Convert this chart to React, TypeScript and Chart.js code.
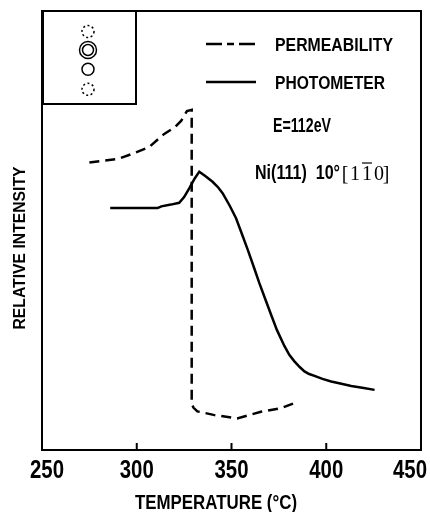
import React, { useEffect, useRef } from "react";
import { Chart, registerables } from "chart.js";

Chart.register(...registerables);

// ---- data ----
const xTicks = [250, 300, 350, 400, 450];

const permTemp = [275, 282, 290, 298.5, 306.5, 314.5, 320, 323.5, 326.5, 329, 329, 330, 332, 340.5, 353, 365.5, 376, 385];
const permVal = [65.5, 65.9, 66.3, 67.6, 69.0, 72.0, 73.5, 75.0, 77.2, 77.5, 10.5, 9.6, 8.8, 8.0, 7.2, 8.7, 9.5, 11.0];

const photTemp = [286, 300, 311, 313, 318, 322.4, 325, 327.7, 330.5, 333, 336.5, 340, 343, 345.3, 349, 352.4, 355.5, 358.6, 362, 364.7, 367.8, 370.9, 374, 377.9, 380.5, 383.2, 386, 388.5, 391, 393.8, 398, 402.6, 408, 413.2, 419, 425.5];
const photVal = [55.1, 55.1, 55.1, 55.5, 55.9, 56.3, 57.6, 59.6, 61.8, 63.4, 62.3, 61.1, 59.8, 58.5, 55.7, 52.8, 49.2, 45.6, 41.4, 38.0, 34.4, 30.8, 27.3, 23.7, 21.7, 20.2, 18.9, 17.9, 17.3, 16.9, 16.2, 15.6, 15.1, 14.6, 14.2, 13.7];

const seriesNames = ["PERMEABILITY", "PHOTOMETER"];
const energyLabel = "E=112eV";
const crystalLabel = "Ni(111)  10°";
const directionChars = ["[", "1", "1", "0", "]"];
const xTitle = "TEMPERATURE (°C)";
const yTitle = "RELATIVE INTENSITY";

const SANS = "'Liberation Sans Narrow', 'Liberation Sans', Arial, sans-serif";
const SERIF = "'Liberation Serif', 'DejaVu Serif', serif";

function drawFit(ctx: CanvasRenderingContext2D, s: string, x: number, y: number, size: number, width: number, align: "left" | "center" = "left", family = SANS, weight = "bold") {
  ctx.save();
  ctx.font = `${weight} ${size}px ${family}`;
  ctx.textBaseline = "alphabetic";
  ctx.textAlign = "left";
  const w = ctx.measureText(s).width;
  const k = width / w;
  const x0 = align === "center" ? x - width / 2 : x;
  ctx.translate(x0, y);
  ctx.scale(k, 1);
  ctx.fillStyle = "#000";
  ctx.fillText(s, 0, 0);
  ctx.restore();
}

const decor = {
  id: "decor",
  afterDraw(chart: any) {
    const ctx: CanvasRenderingContext2D = chart.ctx;
    const a = chart.chartArea;
    const xs = chart.scales.x;
    ctx.save();
    ctx.strokeStyle = "#000";
    ctx.lineWidth = 2;
    ctx.setLineDash([]);
    // frame
    ctx.strokeRect(a.left, a.top, a.right - a.left, a.bottom - a.top);
    // inner ticks
    xTicks.forEach((t, i) => {
      if (i === 0 || i === xTicks.length - 1) return;
      const px = xs.getPixelForValue(t);
      ctx.beginPath();
      ctx.moveTo(px, a.bottom);
      ctx.lineTo(px, a.bottom - 7);
      ctx.stroke();
    });
    // tick labels
    const tw = 34;
    xTicks.forEach((t) => {
      let px = xs.getPixelForValue(t);
      px = Math.max(a.left - 12 + tw / 2, Math.min(a.right + 6 - tw / 2, px));
      drawFit(ctx, String(t), px, 477.5, 26, tw, "center");
    });
    // axis titles
    drawFit(ctx, xTitle, 216, 508.5, 21, 162, "center");
    ctx.save();
    ctx.translate(25, 248);
    ctx.rotate(-Math.PI / 2);
    drawFit(ctx, yTitle, 0, 0, 17, 163, "center");
    ctx.restore();

    // inset
    const ix0 = a.left + 1, iy0 = a.top, ix1 = a.left + 94, iy1 = a.top + 93;
    ctx.fillStyle = "#fff";
    ctx.fillRect(ix0, iy0, ix1 - ix0, iy1 - iy0);
    ctx.strokeRect(ix0, iy0, ix1 - ix0, iy1 - iy0);
    const cx = a.left + 46;
    ctx.lineWidth = 1.5;
    const circ = (cy: number, r: number, dotted: boolean) => {
      ctx.setLineDash(dotted ? [2, 2.5] : []);
      ctx.beginPath();
      ctx.arc(cx, cy, r, 0, Math.PI * 2);
      ctx.stroke();
    };
    circ(a.top + 20.5, 6, true);
    circ(a.top + 39, 8.5, false);
    circ(a.top + 39, 5.5, false);
    circ(a.top + 58.3, 6, false);
    circ(a.top + 78.3, 6, true);

    // legend
    ctx.lineWidth = 2.5;
    ctx.setLineDash([16, 5, 7, 5, 16, 20]);
    ctx.beginPath();
    ctx.moveTo(206, 44);
    ctx.lineTo(256, 44);
    ctx.stroke();
    ctx.setLineDash([]);
    ctx.beginPath();
    ctx.moveTo(206, 82);
    ctx.lineTo(256, 82);
    ctx.stroke();
    drawFit(ctx, seriesNames[0], 275, 50.5, 18.5, 118);
    drawFit(ctx, seriesNames[1], 275, 88.5, 18.5, 110);
    drawFit(ctx, energyLabel, 273, 132, 20.5, 58);
    drawFit(ctx, crystalLabel, 255, 178.5, 20.5, 85);

    // [1 1̄ 0] in serif
    ctx.fillStyle = "#000";
    ctx.font = `20px ${SERIF}`;
    ctx.textAlign = "center";
    ctx.textBaseline = "alphabetic";
    const pos = [345, 355, 367, 379, 386];
    directionChars.forEach((c, i) => {
      ctx.fillText(c, pos[i], 180);
    });
    ctx.lineWidth = 1.2;
    ctx.beginPath();
    ctx.moveTo(362, 163);
    ctx.lineTo(372, 163);
    ctx.stroke();
    ctx.restore();
  },
};

export default function App() {
  const ref = useRef<HTMLCanvasElement>(null);
  useEffect(() => {
    if (!ref.current) return;
    const chart = new Chart(ref.current, {
      type: "line",
      data: {
        datasets: [
          {
            label: seriesNames[0],
            data: permTemp.map((t, i) => ({ x: t, y: permVal[i] })),
            borderColor: "#000",
            borderWidth: 2.5,
            borderDash: [10, 6],
            pointRadius: 0,
            tension: 0,
            fill: false,
          },
          {
            label: seriesNames[1],
            data: photTemp.map((t, i) => ({ x: t, y: photVal[i] })),
            borderColor: "#000",
            borderWidth: 2.5,
            pointRadius: 0,
            tension: 0,
            fill: false,
          },
        ],
      },
      options: {
        responsive: false,
        animation: false,
        layout: { padding: { left: 42, right: 9, top: 11, bottom: 62 } },
        plugins: { legend: { display: false }, tooltip: { enabled: false } },
        scales: {
          x: { type: "linear", min: 250, max: 450, display: false },
          y: { type: "linear", min: 0, max: 100, display: false },
        },
      },
      plugins: [decor],
    } as any);
    return () => chart.destroy();
  }, []);
  return (
    <div style={{ position: "absolute", left: 0, top: 0, width: 430, height: 512, background: "#fff" }}>
      <canvas ref={ref} width={430} height={512} style={{ display: "block" }} />
    </div>
  );
}
